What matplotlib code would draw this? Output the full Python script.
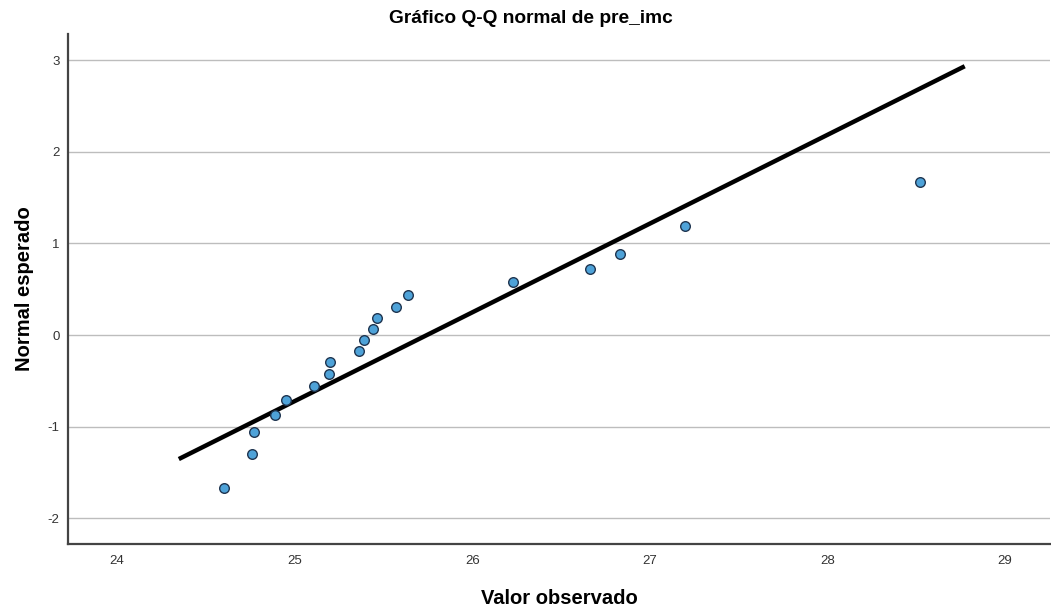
import matplotlib
matplotlib.use('Agg')
import matplotlib.pyplot as plt

plt.rcParams['font.family'] = ['Liberation Sans', 'DejaVu Sans']

observed = [24.602, 24.762, 24.771, 24.891, 24.949, 25.108, 25.191, 25.200,
            25.359, 25.391, 25.442, 25.461, 25.569, 25.639, 26.227, 26.660,
            26.831, 27.200, 28.519]
expected = [-1.666, -1.302, -1.062, -0.873, -0.706, -0.560, -0.425, -0.298,
            -0.175, -0.055, 0.065, 0.185, 0.309, 0.440, 0.575, 0.720,
            0.884, 1.189, 1.672]

# reference line end points
line_x = [24.347, 28.773]
line_y = [-1.353, 2.934]

x_ticks = [24, 25, 26, 27, 28, 29]
y_ticks = [-2, -1, 0, 1, 2, 3]

fig = plt.figure(figsize=(10.51, 6.10), dpi=100)
ax = fig.add_axes([0.0647, 0.1082, 0.9343, 0.8358])

ax.set_xlim(23.723, 29.253)
ax.set_ylim(-2.28, 3.284)

ax.yaxis.grid(True, color='#bdbdbd', linewidth=1.0)
ax.set_axisbelow(True)

ax.plot(line_x, line_y, color='black', linewidth=3.2, solid_capstyle='butt', zorder=2)
ax.scatter(observed, expected, s=48, facecolor='#4ea2d8', edgecolor='#1f3550',
           linewidth=1.0, zorder=3)

ax.set_xticks(x_ticks)
ax.set_yticks(y_ticks)
ax.set_xticklabels([str(t) for t in x_ticks])
ax.set_yticklabels([str(t) for t in y_ticks])
ax.tick_params(axis='both', length=0, labelsize=9.5, labelcolor='#333333')
ax.tick_params(axis='x', pad=8)
ax.tick_params(axis='y', pad=6)

for side in ['top', 'right']:
    ax.spines[side].set_visible(False)
for side in ['left', 'bottom']:
    ax.spines[side].set_color('#444444')
    ax.spines[side].set_linewidth(1.6)

fig.text(0.505, 0.969, 'Gráfico Q-Q normal de pre_imc', ha='center', va='center',
         fontsize=13.8, fontweight='bold')
ax.set_xlabel('Valor observado', fontsize=14.5, fontweight='bold', labelpad=16)
ax.set_ylabel('Normal esperado', fontsize=14.5, fontweight='bold', labelpad=10)

fig.savefig('out.png', dpi=100)
